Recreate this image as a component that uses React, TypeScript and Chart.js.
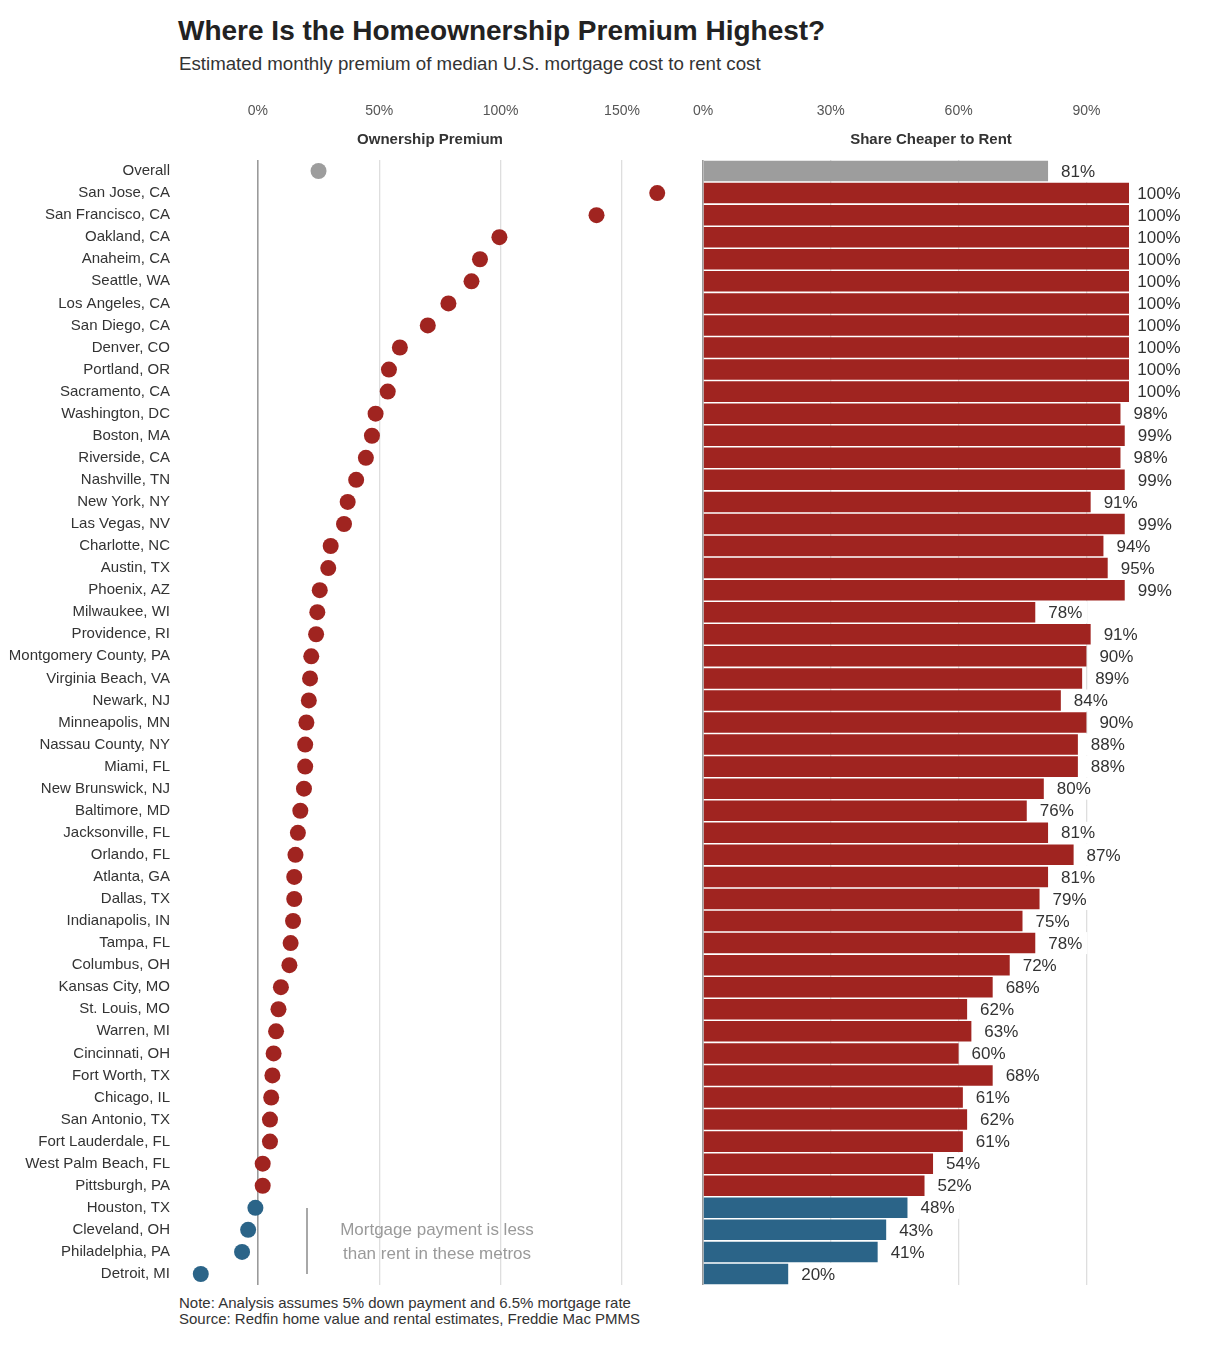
import React, { useEffect, useRef } from "react";
import { Chart, registerables } from "chart.js";

Chart.register(...registerables);

const FONT = '"Liberation Sans", Arial, Helvetica, sans-serif';

const CITIES = [
  "Overall",
  "San Jose, CA", "San Francisco, CA", "Oakland, CA", "Anaheim, CA", "Seattle, WA",
  "Los Angeles, CA", "San Diego, CA", "Denver, CO", "Portland, OR", "Sacramento, CA",
  "Washington, DC", "Boston, MA", "Riverside, CA", "Nashville, TN", "New York, NY",
  "Las Vegas, NV", "Charlotte, NC", "Austin, TX", "Phoenix, AZ", "Milwaukee, WI",
  "Providence, RI", "Montgomery County, PA", "Virginia Beach, VA", "Newark, NJ", "Minneapolis, MN",
  "Nassau County, NY", "Miami, FL", "New Brunswick, NJ", "Baltimore, MD", "Jacksonville, FL",
  "Orlando, FL", "Atlanta, GA", "Dallas, TX", "Indianapolis, IN", "Tampa, FL",
  "Columbus, OH", "Kansas City, MO", "St. Louis, MO", "Warren, MI", "Cincinnati, OH",
  "Fort Worth, TX", "Chicago, IL", "San Antonio, TX", "Fort Lauderdale, FL", "West Palm Beach, FL",
  "Pittsburgh, PA", "Houston, TX", "Cleveland, OH", "Philadelphia, PA", "Detroit, MI",
];

// Ownership premium (%)
const PREMIUM = [
  25,
  164.5, 139.5, 99.5, 91.5, 88,
  78.5, 70, 58.5, 54, 53.5,
  48.5, 47, 44.5, 40.5, 37,
  35.5, 30, 29, 25.5, 24.5,
  24, 22, 21.5, 21, 20,
  19.5, 19.5, 19, 17.5, 16.5,
  15.5, 15, 15, 14.5, 13.5,
  13, 9.5, 8.5, 7.5, 6.5,
  6, 5.5, 5, 5, 2,
  2, -1, -4, -6.5, -23.5,
];

// Share cheaper to rent (%)
const SHARE = [
  81,
  100, 100, 100, 100, 100,
  100, 100, 100, 100, 100,
  98, 99, 98, 99, 91,
  99, 94, 95, 99, 78,
  91, 90, 89, 84, 90,
  88, 88, 80, 76, 81,
  87, 81, 79, 75, 78,
  72, 68, 62, 63, 60,
  68, 61, 62, 61, 54,
  52, 48, 43, 41, 20,
];

const LEFT_TICKS = [0, 50, 100, 150];
const RIGHT_TICKS = [0, 30, 60, 90];

const RED = "#a02420";
const BLUE = "#2b6488";
const GRAY = "#9d9d9d";

const colorFor = (i: number) => (i === 0 ? GRAY : PREMIUM[i] >= 0 ? RED : BLUE);
const COLORS = CITIES.map((_, i) => colorFor(i));

const TOP_H = 70;

const zeroPad = (s: any) => {
  s.paddingLeft = 0;
  s.paddingRight = 0;
  s.paddingTop = 0;
  s.paddingBottom = 0;
};

export default function App() {
  const leftRef = useRef<HTMLCanvasElement | null>(null);
  const rightRef = useRef<HTMLCanvasElement | null>(null);

  useEffect(() => {
    Chart.defaults.font.family = FONT;
    const tickFont = { family: FONT, size: 14 };

    const xGrid = {
      drawTicks: false,
      color: (ctx: any) => (ctx.tick && ctx.tick.value === 0 ? "#9a9a9a" : "#dedede"),
      lineWidth: (ctx: any) => (ctx.tick && ctx.tick.value === 0 ? 1.6 : 1.3),
    };

    const left = new Chart(leftRef.current as HTMLCanvasElement, {
      type: "line",
      data: {
        labels: CITIES,
        datasets: [
          {
            data: PREMIUM,
            showLine: false,
            pointRadius: 8,
            pointHoverRadius: 8,
            pointBorderWidth: 0,
            pointBackgroundColor: COLORS,
            borderColor: "transparent",
            clip: false as any,
          },
        ],
      },
      options: {
        indexAxis: "y",
        responsive: false,
        animation: false,
        maintainAspectRatio: false,
        layout: { padding: 0, autoPadding: false },
        plugins: { legend: { display: false }, tooltip: { enabled: false } },
        scales: {
          x: {
            type: "linear",
            position: "top",
            min: -30,
            max: 178,
            afterBuildTicks: (s: any) => {
              s.ticks = LEFT_TICKS.map((v) => ({ value: v }));
            },
            afterFit: (s: any) => {
              s.height = TOP_H;
              zeroPad(s);
            },
            ticks: {
              callback: (v: any) => v + "%",
              padding: 40,
              font: tickFont,
              color: "#555",
            },
            grid: xGrid,
            border: { display: false },
          },
          y: {
            type: "category",
            offset: true,
            afterFit: (s: any) => {
              s.width = 185;
              zeroPad(s);
            },
            ticks: {
              autoSkip: false,
              padding: 15,
              font: { family: FONT, size: 15 },
              color: "#333",
            },
            grid: { display: false, drawTicks: false },
            border: { display: false },
          },
        },
      } as any,
    });

    const valueLabels = {
      id: "valueLabels",
      afterDatasetsDraw(chart: any) {
        const ctx = chart.ctx;
        const meta = chart.getDatasetMeta(0);
        ctx.save();
        ctx.font = `17px ${FONT}`;
        ctx.textAlign = "center";
        ctx.textBaseline = "middle";
        meta.data.forEach((bar: any, i: number) => {
          const text = SHARE[i] + "%";
          const w = ctx.measureText(text).width;
          const cx = bar.x + 30;
          ctx.fillStyle = "#fff";
          ctx.fillRect(cx - w / 2 - 5, bar.y - 11, w + 10, 22);
          ctx.fillStyle = "#333";
          ctx.fillText(text, cx, bar.y + 1);
        });
        ctx.restore();
      },
    };

    const right = new Chart(rightRef.current as HTMLCanvasElement, {
      type: "bar",
      data: {
        labels: CITIES,
        datasets: [
          {
            data: SHARE,
            backgroundColor: COLORS,
            barPercentage: 0.93,
            categoryPercentage: 1,
          },
        ],
      },
      options: {
        indexAxis: "y",
        responsive: false,
        animation: false,
        maintainAspectRatio: false,
        layout: { padding: { left: 0, right: 83, top: 0, bottom: 0 }, autoPadding: false },
        plugins: { legend: { display: false }, tooltip: { enabled: false } },
        scales: {
          x: {
            type: "linear",
            position: "top",
            min: 0,
            max: 100,
            afterBuildTicks: (s: any) => {
              s.ticks = RIGHT_TICKS.map((v) => ({ value: v }));
            },
            afterFit: (s: any) => {
              s.height = TOP_H;
              zeroPad(s);
            },
            ticks: {
              callback: (v: any) => v + "%",
              padding: 40,
              font: tickFont,
              color: "#555",
            },
            grid: xGrid,
            border: { display: false },
          },
          y: {
            type: "category",
            offset: true,
            afterFit: (s: any) => {
              s.width = 13;
              zeroPad(s);
            },
            ticks: { display: false },
            grid: { display: false, drawTicks: false },
            border: { display: false },
          },
        },
      } as any,
      plugins: [valueLabels],
    });

    return () => {
      left.destroy();
      right.destroy();
    };
  }, []);

  const abs: React.CSSProperties = { position: "absolute", fontFamily: FONT, margin: 0, whiteSpace: "nowrap" };

  return (
    <div
      style={{
        position: "absolute",
        left: 0,
        top: 0,
        width: 1212,
        height: 1350,
        background: "#fff",
        overflow: "hidden",
        fontFamily: FONT,
      }}
    >
      <div style={{ ...abs, left: 178, top: 14, fontSize: 28, lineHeight: "34px", fontWeight: 700, color: "#222" }}>
        Where Is the Homeownership Premium Highest?
      </div>
      <div style={{ ...abs, left: 179, top: 52, fontSize: 18.7, lineHeight: "24px", color: "#333" }}>
        Estimated monthly premium of median U.S. mortgage cost to rent cost
      </div>

      <canvas ref={leftRef} width={690} height={1195} style={{ position: "absolute", left: 0, top: 90 }} />
      <canvas ref={rightRef} width={522} height={1195} style={{ position: "absolute", left: 690, top: 90 }} />

      <div
        style={{ ...abs, left: 330, width: 200, top: 130, textAlign: "center", fontSize: 15, lineHeight: "18px", fontWeight: 700, color: "#333" }}
      >
        Ownership Premium
      </div>
      <div
        style={{ ...abs, left: 831, width: 200, top: 130, textAlign: "center", fontSize: 15, lineHeight: "18px", fontWeight: 700, color: "#333" }}
      >
        Share Cheaper to Rent
      </div>

      <div style={{ position: "absolute", left: 306, top: 1208, width: 2, height: 66, background: "#a8a8a8" }} />
      <div
        style={{ ...abs, left: 317, width: 240, top: 1218, textAlign: "center", fontSize: 17, lineHeight: "24px", color: "#9a9a9a" }}
      >
        Mortgage payment is less
        <br />
        than rent in these metros
      </div>

      <div style={{ ...abs, left: 179, top: 1295, fontSize: 15, lineHeight: "16px", color: "#333" }}>
        Note: Analysis assumes 5% down payment and 6.5% mortgage rate
        <br />
        Source: Redfin home value and rental estimates, Freddie Mac PMMS
      </div>
    </div>
  );
}
